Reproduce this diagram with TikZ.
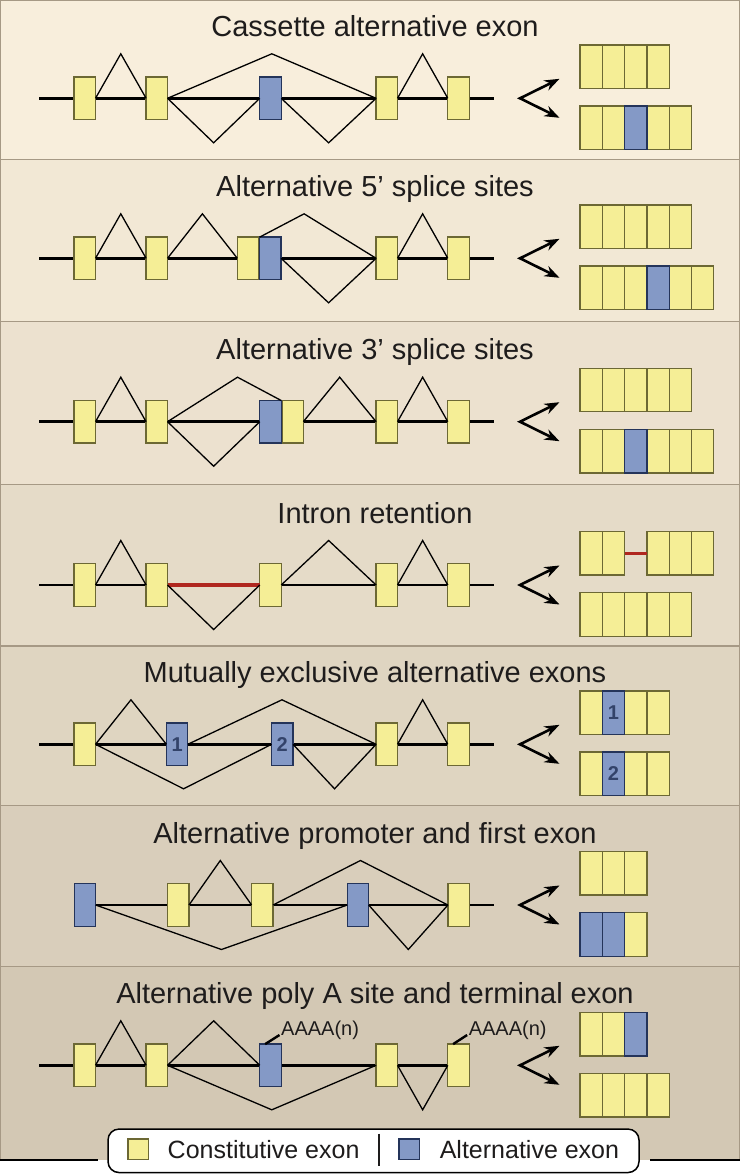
\documentclass[tikz,border=0pt]{standalone}
\usepackage{fontspec}
\setmainfont{Liberation Sans}
\usetikzlibrary{arrows.meta,calc}
\definecolor{bgtop}{HTML}{F8EEDC}
\definecolor{bgbot}{HTML}{D3C8B4}
\definecolor{divc}{HTML}{A69985}
\definecolor{yfill}{HTML}{F5EE96}
\definecolor{ybord}{HTML}{6C6834}
\definecolor{bfill}{HTML}{8499C6}
\definecolor{bbord}{HTML}{24345A}
\definecolor{rline}{HTML}{B0271F}
\definecolor{numc}{HTML}{33436A}
\definecolor{txt}{HTML}{1E1C1C}

\newcommand\SpUp[2]{\draw[splice] (#1.east) -- ($(#1.east)!.5!(#2.west)+(0,-44.5)$) -- (#2.west);}
\newcommand\SpDn[2]{\draw[splice] (#1.east) -- ($(#1.east)!.5!(#2.west)+(0,44.5)$) -- (#2.west);}
\newcommand\MRow[4]{\foreach \c [count=\i] in {#4}{\node[box\c,anchor=north west] (#1\i) at ({#2+(\i-1)*22.3},#3) {};}}
\newcommand\BFix[1]{\draw[bbord,line width=1.3pt] (#1.north west) rectangle (#1.south east);}
\newcommand\Fork[2]{%
  \coordinate (#1v) at (520,#2);
  \coordinate (#1u) at (559.5,#2-19.5);
  \coordinate (#1d) at (559.5,#2+19.5);
  \draw[fork] (#1u) -- (#1v) -- (#1d);}

\begin{document}
\begin{tikzpicture}[x=1pt,y=-1pt,
  gene/.style={line width=2.7pt,black},
  splice/.style={line width=1.3pt,black,line join=miter},
  fork/.style={line width=2.6pt,black,line join=miter,
    {Stealth[length=15pt,width=11pt]}-{Stealth[length=15pt,width=11pt]}},
  exY/.style={rectangle,draw=ybord,fill=yfill,line width=1.3pt,minimum width=21.4pt,minimum height=42.4pt,inner sep=0pt,outer sep=0pt},
  exB/.style={exY,draw=bbord,fill=bfill},
  boxY/.style={rectangle,draw=ybord,fill=yfill,line width=1.3pt,minimum width=22.3pt,minimum height=43.4pt,inner sep=0pt,outer sep=0pt},
  boxB/.style={boxY,draw=bbord,fill=bfill},
  divider/.style={line width=1.5pt,divc},
  ttl/.style={font=\fontsize{29}{34}\selectfont,text=txt,anchor=base,inner sep=0pt},
  numlab/.style={font=\fontsize{20}{24}\selectfont\bfseries,text=numc,inner sep=0pt},
  polya/.style={font=\fontsize{20}{24}\selectfont,text=txt,anchor=base west,inner sep=0pt},
  tick/.style={line width=2.4pt,black},
  legtext/.style={font=\fontsize{25}{30}\selectfont,text=txt,anchor=base west,inner sep=0pt},
  legsq/.style={rectangle,line width=1.3pt,minimum width=20.3pt,minimum height=20.3pt,inner sep=0pt}
]
\useasboundingbox (0,0) rectangle (740,1176);
\fill[white] (0,0) rectangle (740,1176);
% panel backgrounds
\foreach \i/\ya/\yb in {0/0/159.3,1/159.3/321.7,2/321.7/484.3,3/484.3/646,4/646/805.7,5/805.7/966.7,6/966.7/1160}{
  \pgfmathsetmacro\pc{100-\i*100/6}
  \fill[bgtop!\pc!bgbot] (0,\ya) rectangle (740,\yb);}
\foreach \y in {159.3,321.7,484.3,646,805.7,966.7}{\draw[divider] (0,\y) -- (740,\y);}
\draw[divider] (0.7,1160) -- (0.7,0.7) -- (739.3,0.7) -- (739.3,1160);

% ---------------- Panel 1: Cassette alternative exon (L = 98.3)
\node[ttl] (t1) at (375,36.3) {Cassette alternative exon};
\coordinate (p1s) at (39,98.3); \coordinate (p1t) at (494,98.3);
\draw[gene] (p1s) -- (p1t);
\node[exY] (p1e1) at (84.8,98.3) {};
\node[exY] (p1e2) at (156.8,98.3) {};
\node[exB] (p1e3) at (270.5,98.3) {};
\node[exY] (p1e4) at (386.8,98.3) {};
\node[exY] (p1e5) at (458.5,98.3) {};
\SpUp{p1e1}{p1e2}
\draw[splice] (p1e2.east) -- ($(p1e2.east)!.5!(p1e4.west)+(0,-44.5)$) -- (p1e4.west);
\SpDn{p1e2}{p1e3}
\SpDn{p1e3}{p1e4}
\SpUp{p1e4}{p1e5}
\Fork{f1}{98.3}
\MRow{p1a}{580}{45}{Y,Y,Y,Y}
\MRow{p1b}{580}{106.1}{Y,Y,B,Y,Y}
\BFix{p1b3}

% ---------------- Panel 2: Alternative 5' splice sites (L = 258.3)
\node[ttl] (t2) at (375,196.3) {Alternative 5’ splice sites};
\coordinate (p2s) at (39,258.3); \coordinate (p2t) at (494,258.3);
\draw[gene] (p2s) -- (p2t);
\node[exY] (p2e1) at (84.8,258.3) {};
\node[exY] (p2e2) at (156.8,258.3) {};
\node[exY] (p2e3) at (248,258.3) {};
\node[exB] (p2b) at (270.4,258.3) {};
\node[exY] (p2e4) at (386.8,258.3) {};
\node[exY] (p2e5) at (458.5,258.3) {};
\SpUp{p2e1}{p2e2}
\SpUp{p2e2}{p2e3}
\draw[splice] (p2b.north west) -- ($(p2e4.west)+(-72,-44.5)$) -- (p2e4.west);
\SpDn{p2b}{p2e4}
\SpUp{p2e4}{p2e5}
\Fork{f2}{258.3}
\MRow{p2a}{580}{205}{Y,Y,Y,Y,Y}
\MRow{p2m}{580}{266.1}{Y,Y,Y,B,Y,Y}
\BFix{p2m4}

% ---------------- Panel 3: Alternative 3' splice sites (L = 421.7)
\node[ttl] (t3) at (375,359.7) {Alternative 3’ splice sites};
\coordinate (p3s) at (39,421.7); \coordinate (p3t) at (494,421.7);
\draw[gene] (p3s) -- (p3t);
\node[exY] (p3e1) at (84.8,421.7) {};
\node[exY] (p3e2) at (156.8,421.7) {};
\node[exY] (p3e3) at (292.6,421.7) {};
\node[exB] (p3b) at (270.5,421.7) {};
\node[exY] (p3e4) at (386.8,421.7) {};
\node[exY] (p3e5) at (458.5,421.7) {};
\SpUp{p3e1}{p3e2}
\draw[splice] (p3e2.east) -- ($(p3e2.east)+(70,-44.5)$) -- (p3b.north east);
\SpDn{p3e2}{p3b}
\SpUp{p3e3}{p3e4}
\SpUp{p3e4}{p3e5}
\Fork{f3}{421.7}
\MRow{p3a}{580}{368.4}{Y,Y,Y,Y,Y}
\MRow{p3m}{580}{429.5}{Y,Y,B,Y,Y,Y}
\BFix{p3m3}

% ---------------- Panel 4: Intron retention (L = 585)
\node[ttl] (t4) at (375,523) {Intron retention};
\coordinate (p4s) at (39,585); \coordinate (p4t) at (494,585);
\draw[gene] (p4s) -- (p4t);
\node[exY] (p4e1) at (84.8,585) {};
\node[exY] (p4e2) at (156.8,585) {};
\node[exY] (p4e3) at (270.5,585) {};
\node[exY] (p4e4) at (386.8,585) {};
\node[exY] (p4e5) at (458.5,585) {};
\draw[line width=3.6pt,rline] (p4e2.east) -- (p4e3.west);
\SpUp{p4e1}{p4e2}
\SpDn{p4e2}{p4e3}
\SpUp{p4e3}{p4e4}
\SpUp{p4e4}{p4e5}
\Fork{f4}{585}
\MRow{p4a}{580}{531.7}{Y,Y}
\MRow{p4c}{646.9}{531.7}{Y,Y,Y}
\draw[line width=3.6pt,rline] (p4a2.east) -- (p4c1.west);
\MRow{p4m}{580}{592.8}{Y,Y,Y,Y,Y}

% ---------------- Panel 5: Mutually exclusive alternative exons (L = 744.3)
\node[ttl] (t5) at (375,682.3) {Mutually exclusive alternative exons};
\coordinate (p5s) at (39,744.3); \coordinate (p5t) at (494,744.3);
\draw[gene] (p5s) -- (p5t);
\node[exY] (p5e1) at (84.8,744.3) {};
\node[exB,numlab] (p5m1) at (177.1,744.3) {1};
\node[exB,numlab] (p5m2) at (282.3,744.3) {2};
\node[exY] (p5e4) at (386.8,744.3) {};
\node[exY] (p5e5) at (458.5,744.3) {};
\SpUp{p5e1}{p5m1}
\SpUp{p5m1}{p5e4}
\SpDn{p5e1}{p5m2}
\SpDn{p5m2}{p5e4}
\SpUp{p5e4}{p5e5}
\Fork{f5}{744.3}
\MRow{p5a}{580}{691}{Y,B,Y,Y}
\BFix{p5a2}
\node[numlab] (p5l1) at (p5a2) {1};
\MRow{p5b}{580}{752.1}{Y,B,Y,Y}
\BFix{p5b2}
\node[numlab] (p5l2) at (p5b2) {2};

% ---------------- Panel 6: Alternative promoter and first exon (L = 905)
\node[ttl] (t6) at (375,843) {Alternative promoter and first exon};
\coordinate (p6s) at (84.9,905); \coordinate (p6t) at (494,905);
\draw[gene] (p6s) -- (p6t);
\node[exB] (p6e1) at (84.9,905) {};
\node[exY] (p6e2) at (178.3,905) {};
\node[exY] (p6e3) at (262.3,905) {};
\node[exB] (p6e4) at (358,905) {};
\node[exY] (p6e5) at (458.6,905) {};
\SpUp{p6e2}{p6e3}
\SpUp{p6e3}{p6e5}
\SpDn{p6e1}{p6e4}
\SpDn{p6e4}{p6e5}
\Fork{f6}{905}
\MRow{p6a}{580}{851.7}{Y,Y,Y}
\MRow{p6b}{580}{912.8}{B,B,Y}
\BFix{p6b1}\BFix{p6b2}

% ---------------- Panel 7: Alternative poly A site and terminal exon (L = 1065.3)
\node[ttl] (t7) at (375,1003.3) {Alternative poly A site and terminal exon};
\coordinate (p7s) at (39,1065.3); \coordinate (p7t) at (458,1065.3);
\draw[gene] (p7s) -- (p7t);
\node[exY] (p7e1) at (84.8,1065.3) {};
\node[exY] (p7e2) at (156.8,1065.3) {};
\node[exB] (p7b) at (270.5,1065.3) {};
\node[exY] (p7e4) at (386.8,1065.3) {};
\node[exY] (p7e5) at (458.5,1065.3) {};
\SpUp{p7e1}{p7e2}
\SpUp{p7e2}{p7b}
\SpDn{p7e2}{p7e4}
\SpDn{p7e4}{p7e5}
\node[polya] (pa1) at (281,1035) {AAAA(n)};
\node[polya] (pa2) at (468.6,1035) {AAAA(n)};
\draw[tick] ($(p7b.north west)!.25!(p7b.north east)$) -- ($(pa1.base west)+(-1.5,0)$);
\draw[tick] ($(p7e5.north west)!.25!(p7e5.north east)$) -- ($(pa2.base west)+(-1.5,0)$);
\Fork{f7}{1065.3}
\MRow{p7a}{580}{1012.6}{Y,Y,B}
\BFix{p7a3}
\MRow{p7c}{580}{1073.6}{Y,Y,Y,Y}

% ---------------- bottom rule and legend
\coordinate (bl1) at (0,1160); \coordinate (bl2) at (97.6,1160);
\coordinate (br1) at (650,1160); \coordinate (br2) at (740,1160);
\draw[line width=2.6pt,black] (bl1) -- (bl2);
\draw[line width=2.6pt,black] (br1) -- (br2);
\node[draw=black,line width=1.5pt,fill=white,rounded corners=11pt,minimum width=531pt,minimum height=43.5pt,inner sep=0pt] (legend) at (373.5,1150.8) {};
\node[legsq,draw=ybord,fill=yfill] (lgy) at (138.2,1149.2) {};
\node[legtext] (lgyt) at (167.5,1158) {Constitutive exon};
\coordinate (dv1) at (378.8,1133.5); \coordinate (dv2) at (378.8,1166);
\draw[line width=1.4pt,txt] (dv1) -- (dv2);
\node[legsq,draw=bbord,fill=bfill] (lgb) at (409.2,1149.2) {};
\node[legtext] (lgbt) at (439.6,1158) {Alternative exon};
\end{tikzpicture}
\end{document}
